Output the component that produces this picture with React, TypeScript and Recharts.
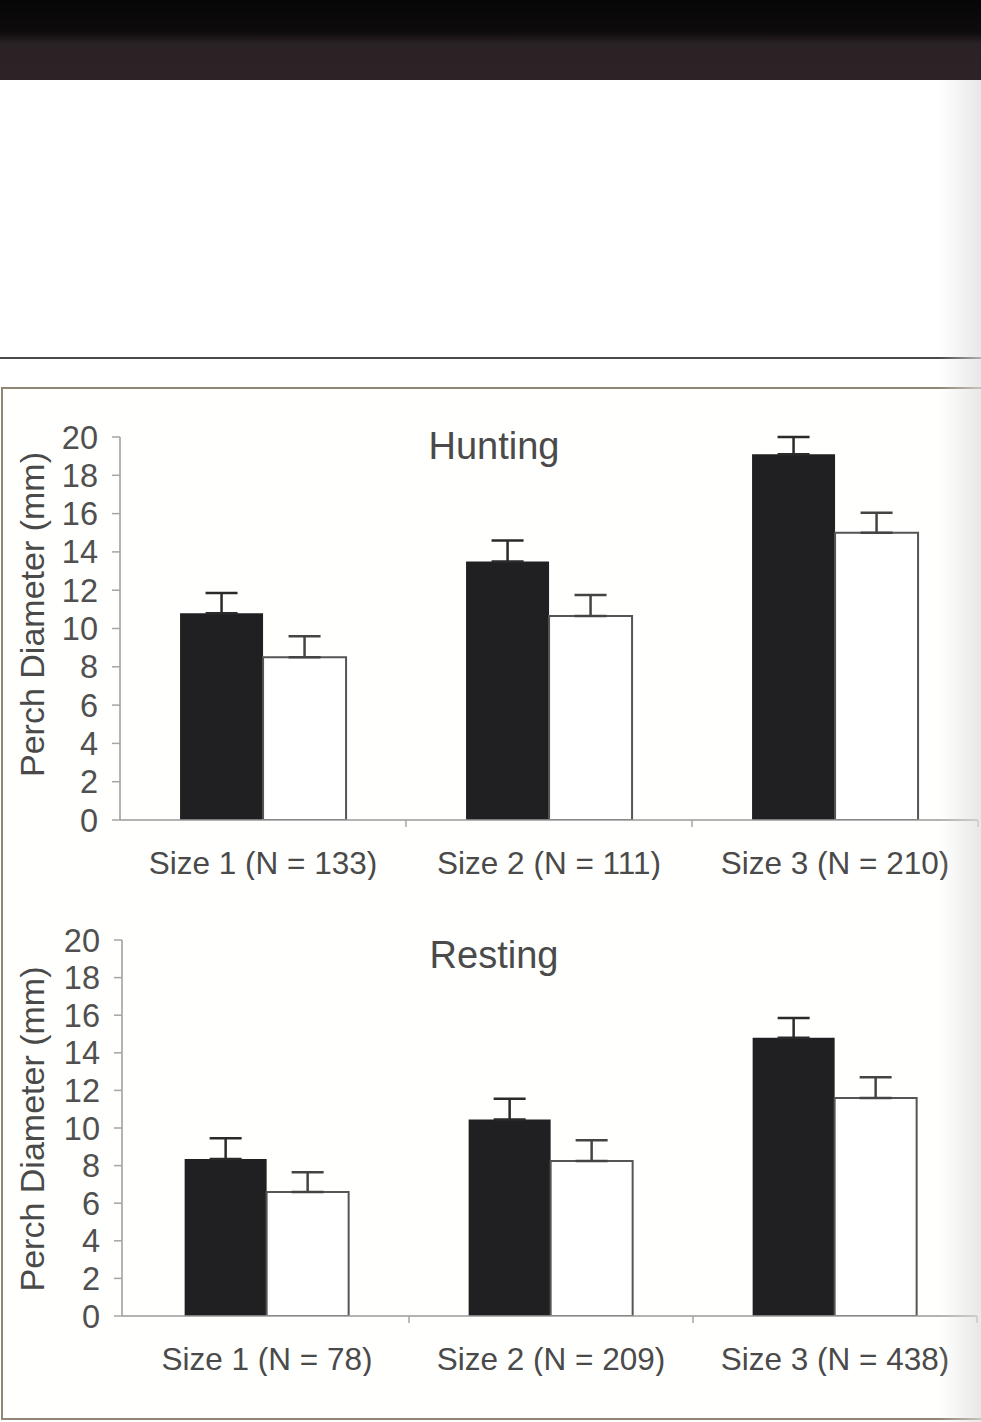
import { BarChart, Bar, XAxis, YAxis, ErrorBar, Label } from "recharts";

const FONT = "'Liberation Sans', Arial, sans-serif";

const yTicks = [0, 2, 4, 6, 8, 10, 12, 14, 16, 18, 20];

// Hunting panel
const huntingCategories = ["Size 1 (N = 133)", "Size 2 (N = 111)", "Size 3 (N = 210)"];
const huntingDark = [10.8, 13.5, 19.1];
const huntingDarkErr = [1.05, 1.1, 0.9];
const huntingLight = [8.5, 10.65, 15.0];
const huntingLightErr = [1.1, 1.1, 1.05];

// Resting panel
const restingCategories = ["Size 1 (N = 78)", "Size 2 (N = 209)", "Size 3 (N = 438)"];
const restingDark = [8.35, 10.45, 14.8];
const restingDarkErr = [1.1, 1.1, 1.05];
const restingLight = [6.6, 8.25, 11.6];
const restingLightErr = [1.05, 1.1, 1.1];

const buildRows = (
  cats: string[],
  dark: number[],
  darkErr: number[],
  light: number[],
  lightErr: number[]
) =>
  cats.map((name, i) => ({
    name,
    dark: dark[i],
    darkErr: [0, darkErr[i]],
    light: light[i],
    lightErr: [0, lightErr[i]],
  }));

const huntingRows = buildRows(huntingCategories, huntingDark, huntingDarkErr, huntingLight, huntingLightErr);
const restingRows = buildRows(restingCategories, restingDark, restingDarkErr, restingLight, restingLightErr);

const CategoryTick = (props: any) => {
  const { x, y, payload } = props;
  const half = payload && payload.offset ? payload.offset : 0;
  return (
    <g>
      {half > 0 && (
        <line x1={x + half} y1={y} x2={x + half} y2={y + 7} stroke="#a5a5a5" strokeWidth={1.5} />
      )}
      <text x={x} y={y + 54} textAnchor="middle" fill="#4a4a4a" fontSize={31.5} fontFamily={FONT}>
        {payload.value}
      </text>
    </g>
  );
};

const yLabel = (shift: number) => (props: any) => {
  const vb = props.viewBox || {};
  const cy = (vb.y ?? 0) + (vb.height ?? 0) / 2 + shift;
  return (
    <text
      x={32}
      y={cy}
      transform={`rotate(-90, 32, ${cy})`}
      textAnchor="middle"
      dominantBaseline="central"
      fill="#4a4a4a"
      fontSize={34}
      fontFamily={FONT}
    >
      Perch Diameter (mm)
    </text>
  );
};

interface PanelProps {
  title: string;
  rows: ReturnType<typeof buildRows>;
  top: number;
  height: number;
  marginTop: number;
  marginRight: number;
  yAxisWidth: number;
  padLeft: number;
  titleTop: number;
  labelShift: number;
}

const Panel = ({
  title,
  rows,
  top,
  height,
  marginTop,
  marginRight,
  yAxisWidth,
  padLeft,
  titleTop,
  labelShift,
}: PanelProps) => (
  <div style={{ position: "absolute", left: 0, top, width: 981, height }}>
    <BarChart
      width={981}
      height={height}
      data={rows}
      margin={{ top: marginTop, right: marginRight, left: 0, bottom: 0 }}
      barCategoryGap="21%"
      barGap={0}
    >
      <XAxis
        dataKey="name"
        height={60}
        interval={0}
        padding={{ left: padLeft, right: 0 }}
        axisLine={{ stroke: "#9a9a9a", strokeWidth: 1.5 }}
        tickLine={false}
        tickSize={0}
        tickMargin={0}
        tick={<CategoryTick />}
      />
      <YAxis
        type="number"
        domain={[0, 20]}
        ticks={yTicks}
        interval={0}
        width={yAxisWidth}
        allowDataOverflow
        axisLine={{ stroke: "#9a9a9a", strokeWidth: 1.5 }}
        tickLine={{ stroke: "#a5a5a5", strokeWidth: 1.5 }}
        tickSize={8}
        tickMargin={14}
        tick={{ fill: "#505050", fontSize: 32.5, fontFamily: FONT }}
      >
        <Label content={yLabel(labelShift)} />
      </YAxis>
      <Bar dataKey="dark" fill="#202022" isAnimationActive={false}>
        <ErrorBar dataKey="darkErr" direction="y" width={16} stroke="#2a2a2a" strokeWidth={2.5} isAnimationActive={false} />
      </Bar>
      <Bar dataKey="light" fill="#ffffff" stroke="#555" strokeWidth={2} isAnimationActive={false}>
        <ErrorBar dataKey="lightErr" direction="y" width={16} stroke="#444" strokeWidth={2.5} isAnimationActive={false} />
      </Bar>
    </BarChart>
    <div
      style={{
        position: "absolute",
        top: titleTop,
        left: 494,
        transform: "translateX(-50%)",
        fontFamily: FONT,
        fontSize: 38,
        lineHeight: 1,
        color: "#4a4a4a",
        whiteSpace: "nowrap",
      }}
    >
      {title}
    </div>
  </div>
);

export default function App() {
  return (
    <div
      style={{
        position: "absolute",
        left: 0,
        top: 0,
        width: 981,
        height: 1422,
        overflow: "hidden",
        background: "#ffffff",
      }}
    >
      {/* dark strip at the top of the scan */}
      <div
        style={{
          position: "absolute",
          left: 0,
          top: 0,
          width: 981,
          height: 80,
          background: "linear-gradient(to bottom, #070606 0%, #0d0b0b 40%, #2a2224 55%, #2b2325 100%)",
        }}
      />
      <div style={{ position: "absolute", left: 0, top: 357, width: 981, height: 2, background: "#4a4a4a" }} />
      {/* figure frame */}
      <div
        style={{
          position: "absolute",
          left: 1,
          top: 387,
          width: 990,
          height: 1029,
          border: "2px solid #8f8674",
          background: "#fffffd",
        }}
      />
      <Panel
        title="Hunting"
        rows={huntingRows}
        top={400}
        height={480}
        marginTop={37}
        marginRight={3}
        yAxisWidth={120}
        padLeft={0}
        titleTop={27}
        labelShift={-14}
      />
      <Panel
        title="Resting"
        rows={restingRows}
        top={900}
        height={476}
        marginTop={40}
        marginRight={4}
        yAxisWidth={122}
        padLeft={3}
        titleTop={36}
        labelShift={1}
      />
      {/* paper curl shading on the right edge */}
      <div
        style={{
          position: "absolute",
          left: 940,
          top: 80,
          width: 41,
          height: 1342,
          pointerEvents: "none",
          background: "linear-gradient(to right, rgba(225,225,225,0) 0%, rgba(222,222,222,0.7) 100%)",
        }}
      />
    </div>
  );
}
